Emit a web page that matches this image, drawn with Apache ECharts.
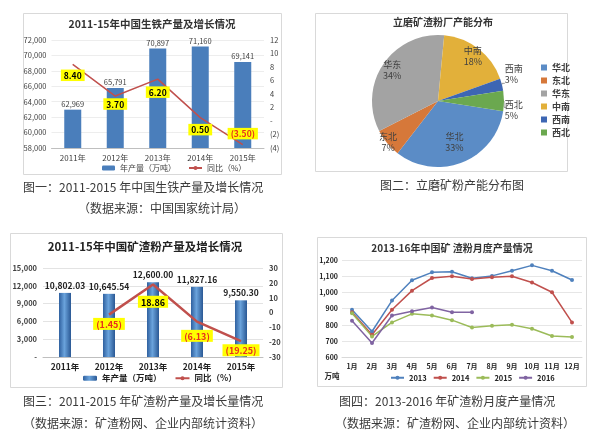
<!DOCTYPE html>
<html><head><meta charset="utf-8">
<script src="https://cdn.jsdelivr.net/npm/echarts@6/dist/echarts.min.js"></script>
<style>html,body{margin:0;padding:0;background:#fff}#c{width:600px;height:436px}</style>
</head><body><div id="c"></div>
<script>
// ---------- Chart 1: pig iron ----------
const c1Years = ['2011年','2012年','2013年','2014年','2015年'];
const c1Output = [62969, 65791, 70897, 71160, 69141];
const c1Growth = [8.40, 3.70, 6.20, 0.50, -3.50];
// ---------- Chart 2: pie ----------
const c2Regions = ['华北','东北','华东','中南','西南','西北'];
const c2Share = [33, 7, 34, 18, 3, 5];
// ---------- Chart 3: slag powder ----------
const c3Years = ['2011年','2012年','2013年','2014年','2015年'];
const c3Output = [10802.03, 10645.54, 12600.00, 11827.16, 9550.30];
const c3Growth = [null, -1.45, 18.86, -6.13, -19.25];
// ---------- Chart 4: monthly ----------
const c4Months = ['1月','2月','3月','4月','5月','6月','7月','8月','9月','10月','11月','12月'];
const c4Y2013 = [893, 759, 950, 1075, 1124, 1128, 1087, 1102, 1134, 1167, 1134, 1077];
const c4Y2014 = [878, 739, 893, 1011, 1089, 1100, 1083, 1093, 1100, 1061, 1001, 815];
const c4Y2015 = [872, 729, 815, 868, 858, 829, 784, 794, 800, 776, 731, 725];
const c4Y2016 = [825, 688, 858, 884, 907, 878, 878];

const FONT = '"Noto Sans CJK SC", "Noto Sans", sans-serif';
const legendNames = {c1bar:'年产量（万吨）', c1line:'同比（%）', c3bar:'年产量（万吨）', c3line:'同比（%）'};
const comma = v => v.toLocaleString('en-US');
const paren = v => v < 0 ? '(' + (-v).toFixed(2) + ')' : v.toFixed(2);

// label placement styles (not data)
const c1LabelPos = ['bottom','bottom','bottom','bottom','top'];
const c1LabelDist = [5, 2, 7, 6, 5];
const c3LabelDist = [4, 3, 11, 8, 3];
const c2LabelRadius = [0.62, 0.9, 0.77, 0.79, 1, 1];
const c2OutsideShift = [null, null, null, null, [-5, -9], [-7, 3]];
const pieC = [438, 101], pieR = 66;

const yellowLabel = {
  show: true, backgroundColor: '#ffff00', padding: [2, 3, 1, 3],
  fontSize: 8.5, fontWeight: 'bold', fontFamily: FONT
};

const c1LineData = c1Growth.map((v, i) => ({
  value: v,
  label: Object.assign({}, yellowLabel, {position: c1LabelPos[i], distance: c1LabelDist[i], color: v < 0 ? '#e8301c' : '#000', formatter: p => paren(p.value)})
}));
const c3LineData = c3Growth.map((v, i) => v === null ? '-' : ({
  value: v,
  label: Object.assign({}, yellowLabel, {fontSize: 9, position: 'bottom', distance: c3LabelDist[i], color: v < 0 ? '#e8301c' : '#000', formatter: p => paren(p.value)})
}));
const c2Data = c2Regions.map((n, i) => ({
  name: n, value: c2Share[i],
  label: {position: c2LabelRadius[i] >= 1 ? 'outside' : 'inside'},
  labelLine: {show: c2LabelRadius[i] >= 1}
}));

const axisLbl = (size, bold) => ({fontSize: size, color: '#404040', fontWeight: bold ? 'bold' : 'normal', fontFamily: FONT});

const option = {
  animation: false,
  backgroundColor: '#fff',
  textStyle: {fontFamily: FONT},
  title: [
    {text: '2011-15年中国生铁产量及增长情况', left: 152, top: 19, textAlign: 'center', padding: 0, textStyle: {fontSize: 10.5, fontWeight: 'bold', color: '#333', fontFamily: FONT}},
    {text: '立磨矿渣粉厂产能分布', left: 443, top: 17, textAlign: 'center', padding: 0, textStyle: {fontSize: 10, fontWeight: 'bold', color: '#333', fontFamily: FONT}},
    {text: '2011-15年中国矿渣粉产量及增长情况', left: 145, top: 241, textAlign: 'center', padding: 0, textStyle: {fontSize: 11.5, fontWeight: 'bold', color: '#222', fontFamily: FONT}},
    {text: '2013-16年中国矿 渣粉月度产量情况', left: 452, top: 243, textAlign: 'center', padding: 0, textStyle: {fontSize: 10, fontWeight: 'bold', color: '#333', fontFamily: FONT}}
  ],
  legend: [
    {data: ['c1bar', 'c1line'], left: 102, top: 164, itemWidth: 13, itemHeight: 5, itemGap: 12, padding: 0,
     formatter: n => legendNames[n], textStyle: {fontSize: 8, color: '#404040'}},
    {data: c2Regions, orient: 'vertical', left: 541, top: 63, itemWidth: 6, itemHeight: 6, itemGap: 4, padding: 0,
     icon: 'rect', textStyle: {fontSize: 9, color: '#404040', fontWeight: 'bold'}},
    {data: ['c3bar', 'c3line'], left: 83, top: 374, itemWidth: 14, itemHeight: 5, itemGap: 13, padding: 0,
     formatter: n => legendNames[n], textStyle: {fontSize: 8.5, color: '#222', fontWeight: 'bold'}},
    {data: ['2013', '2014', '2015', '2016'], left: 390, top: 374, itemWidth: 13, itemHeight: 5, itemGap: 6, padding: 0,
     textStyle: {fontSize: 7.5, color: '#222', fontWeight: 'bold'}}
  ],
  grid: [
    {left: 51.5, top: 40, width: 212.5, height: 108},
    {left: 43, top: 268, width: 220, height: 89},
    {left: 342, top: 260, width: 240, height: 97.3}
  ],
  xAxis: [
    {type: 'category', gridIndex: 0, data: c1Years, axisTick: {show: false},
     axisLine: {onZero: false, lineStyle: {color: '#bfbfbf'}}, axisLabel: Object.assign(axisLbl(8, false), {margin: 6})},
    {type: 'category', gridIndex: 1, data: c3Years, axisTick: {show: false},
     axisLine: {onZero: false, lineStyle: {color: '#bfbfbf'}}, axisLabel: Object.assign(axisLbl(8.5, true), {margin: 6, color: '#222'})},
    {type: 'category', gridIndex: 2, data: c4Months, axisTick: {show: false},
     axisLine: {onZero: false, lineStyle: {color: '#d9d9d9'}}, axisLabel: Object.assign(axisLbl(7, true), {margin: 6, color: '#222', interval: 0})}
  ],
  yAxis: [
    {type: 'value', gridIndex: 0, min: 58000, max: 72000, interval: 2000,
     axisLabel: Object.assign(axisLbl(7.5, false), {formatter: comma, margin: 5}),
     splitLine: {lineStyle: {color: '#ededed'}}},
    {type: 'value', gridIndex: 0, position: 'right', min: -4, max: 12, interval: 2,
     axisLabel: Object.assign(axisLbl(7.5, false), {margin: 6, formatter: v => v === 0 ? '-' : (v < 0 ? '(' + (-v) + ')' : String(v))}),
     splitLine: {show: false}},
    {type: 'value', gridIndex: 1, min: 0, max: 15000, interval: 3000,
     axisLabel: Object.assign(axisLbl(7.5, true), {margin: 6, formatter: v => v === 0 ? '-' : comma(v)}),
     splitLine: {lineStyle: {color: '#e3e3e3'}}},
    {type: 'value', gridIndex: 1, position: 'right', min: -30, max: 30, interval: 10,
     axisLabel: Object.assign(axisLbl(7.5, true), {margin: 6}), splitLine: {show: false}},
    {type: 'value', gridIndex: 2, min: 600, max: 1200, interval: 100,
     axisLabel: Object.assign(axisLbl(7, true), {margin: 4, formatter: comma, color: '#222'}),
     splitLine: {lineStyle: {color: '#e6e6e6'}}}
  ],
  series: [
    {name: 'c1bar', type: 'bar', xAxisIndex: 0, yAxisIndex: 0, data: c1Output, barWidth: 17,
     itemStyle: {color: '#4a7ebb'},
     label: {show: true, position: 'top', distance: 2, fontSize: 7.5, color: '#404040', formatter: p => comma(p.value)}},
    {name: 'c1line', type: 'line', xAxisIndex: 0, yAxisIndex: 1, data: c1LineData, symbol: 'circle', symbolSize: 0.5,
     showSymbol: true, z: 3,
     lineStyle: {color: '#c0504d', width: 1.5}, itemStyle: {color: '#c0504d'}},
    {name: '立磨矿渣粉厂产能分布', type: 'pie', center: pieC, radius: pieR, startAngle: -9, data: c2Data,
     color: ['#5b8cc6', '#d6783a', '#a3a3a3', '#e2b03a', '#3d66b3', '#6ba84f'],
     label: {formatter: '{b}\n{d}%', fontSize: 9, color: '#404040', lineHeight: 11, align: 'center'},
     labelLine: {length: 5, length2: 3, lineStyle: {color: '#808080', width: 0.8}},
     labelLayout: function (p) {
       const k = c2LabelRadius[p.dataIndex];
       if (k >= 1) {
         const s = c2OutsideShift[p.dataIndex];
         return {dx: s[0], dy: s[1]};
       }
       const cx = p.labelRect.x + p.labelRect.width / 2, cy = p.labelRect.y + p.labelRect.height / 2;
       const f = k / 0.5 - 1;
       return {dx: (cx - pieC[0]) * f, dy: (cy - pieC[1]) * f};
     }},
    {name: 'c3bar', type: 'bar', xAxisIndex: 1, yAxisIndex: 2, data: c3Output, barWidth: 12,
     itemStyle: {color: new echarts.graphic.LinearGradient(0, 0, 1, 0, [
       {offset: 0, color: '#2f609f'}, {offset: 0.45, color: '#6aa3dc'}, {offset: 1, color: '#2a5894'}])},
     label: {show: true, position: 'top', distance: 3, fontSize: 8.5, fontWeight: 'bold', color: '#222',
       formatter: p => p.value.toLocaleString('en-US', {minimumFractionDigits: 2, maximumFractionDigits: 2})}},
    {name: 'c3line', type: 'line', xAxisIndex: 1, yAxisIndex: 3, data: c3LineData, symbol: 'circle', symbolSize: 0.5,
     showSymbol: true, z: 3,
     lineStyle: {color: '#c0504d', width: 2.5}, itemStyle: {color: '#c0504d'}},
    {name: '2013', type: 'line', xAxisIndex: 2, yAxisIndex: 4, data: c4Y2013, symbol: 'circle', symbolSize: 4,
     lineStyle: {color: '#4f81bd', width: 1.5}, itemStyle: {color: '#4f81bd'}},
    {name: '2014', type: 'line', xAxisIndex: 2, yAxisIndex: 4, data: c4Y2014, symbol: 'circle', symbolSize: 4,
     lineStyle: {color: '#c0504d', width: 1.5}, itemStyle: {color: '#c0504d'}},
    {name: '2015', type: 'line', xAxisIndex: 2, yAxisIndex: 4, data: c4Y2015, symbol: 'circle', symbolSize: 4,
     lineStyle: {color: '#9bbb59', width: 1.5}, itemStyle: {color: '#9bbb59'}},
    {name: '2016', type: 'line', xAxisIndex: 2, yAxisIndex: 4, data: c4Y2016, symbol: 'circle', symbolSize: 4,
     lineStyle: {color: '#8064a2', width: 1.5}, itemStyle: {color: '#8064a2'}}
  ],
  graphic: [
    {type: 'rect', z: -10, shape: {x: 23.5, y: 13.5, width: 258, height: 161}, style: {fill: '#fff', stroke: '#d9d9d9', lineWidth: 1}},
    {type: 'rect', z: -10, shape: {x: 315.5, y: 13.5, width: 252, height: 158}, style: {fill: '#fff', stroke: '#d9d9d9', lineWidth: 1}},
    {type: 'rect', z: -10, shape: {x: 10.5, y: 233.5, width: 272, height: 154}, style: {fill: '#fff', stroke: '#d9d9d9', lineWidth: 1}},
    {type: 'rect', z: -10, shape: {x: 317.5, y: 237.5, width: 269, height: 149}, style: {fill: '#fff', stroke: '#d9d9d9', lineWidth: 1}},
    {type: 'text', x: 332, y: 376, style: {text: '万吨', font: 'bold 7.5px ' + FONT, fill: '#222', textAlign: 'center', textVerticalAlign: 'middle'}},
    {type: 'text', x: 23, y: 187, style: {text: '图一：2011-2015 年中国生铁产量及增长情况', font: '12px ' + FONT, fill: '#3a3a3a', textVerticalAlign: 'middle'}},
    {type: 'text', x: 78, y: 208, style: {text: '（数据来源：中国国家统计局）', font: '12px ' + FONT, fill: '#3a3a3a', textVerticalAlign: 'middle'}},
    {type: 'text', x: 380, y: 185, style: {text: '图二：立磨矿粉产能分布图', font: '12px ' + FONT, fill: '#3a3a3a', textVerticalAlign: 'middle'}},
    {type: 'text', x: 23, y: 401, style: {text: '图三：2011-2015 年矿渣粉产量及增长量情况', font: '12px ' + FONT, fill: '#3a3a3a', textVerticalAlign: 'middle'}},
    {type: 'text', x: 23, y: 423, style: {text: '（数据来源：矿渣粉网、企业内部统计资料）', font: '12px ' + FONT, fill: '#3a3a3a', textVerticalAlign: 'middle'}},
    {type: 'text', x: 339, y: 401, style: {text: '图四：2013-2016 年矿渣粉月度产量情况', font: '12px ' + FONT, fill: '#3a3a3a', textVerticalAlign: 'middle'}},
    {type: 'text', x: 335, y: 423, style: {text: '（数据来源：矿渣粉网、企业内部统计资料）', font: '12px ' + FONT, fill: '#3a3a3a', textVerticalAlign: 'middle'}}
  ]
};
const chart = echarts.init(document.getElementById('c'), null, {renderer: 'canvas'});
chart.setOption(option);
</script></body></html>
